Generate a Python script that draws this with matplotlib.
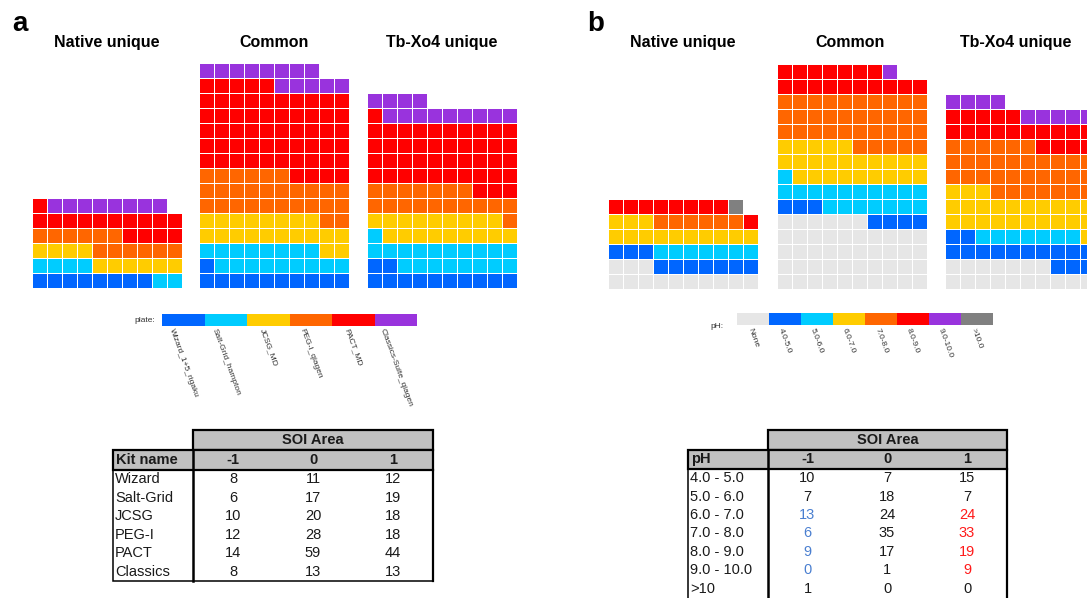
import numpy as np
import matplotlib
matplotlib.use('Agg')
import matplotlib.pyplot as plt
from matplotlib.colors import ListedColormap
from matplotlib.patches import Rectangle

plt.rcParams['font.family'] = ['Liberation Sans', 'DejaVu Sans']

W, H = 1087, 598

# ---------------- data ----------------
plate_labels = ["Wizard_1+5_rigaku", "Salt-Grid_hampton", "JCSG_MD",
                "PEG-I_qiagen", "PACT_MD", "Classics-Suite_qiagen"]
plate_colors = ["#0066ff", "#00ccff", "#ffcc00", "#ff6600", "#ff0000", "#9933dd"]
plate_native = [8, 6, 10, 12, 15, 8]
plate_common = [11, 17, 20, 28, 59, 13]
plate_tb = [12, 19, 18, 18, 44, 13]

ph_labels = ["None", "4.0-5.0", "5.0-6.0", "6.0-7.0", "7.0-8.0",
             "8.0-9.0", "9.0-10.0", ">10.0"]
ph_colors = ["#e6e6e6", "#0066ff", "#00ccff", "#ffcc00", "#ff6600",
             "#ff0000", "#9933dd", "#808080"]
ph_native = [13, 10, 7, 13, 6, 9, 0, 1]
ph_common = [46, 7, 18, 24, 35, 17, 1, 0]
ph_tb = [17, 15, 7, 24, 33, 19, 9, 0]

panel_titles = ["Native unique", "Common", "Tb-Xo4 unique"]

kit_names = ["Wizard", "Salt-Grid", "JCSG", "PEG-I", "PACT", "Classics"]
kit_m1 = [8, 6, 10, 12, 14, 8]
kit_0 = [11, 17, 20, 28, 59, 13]
kit_1 = [12, 19, 18, 18, 44, 13]

ph_rows = ["4.0 - 5.0", "5.0 - 6.0", "6.0 - 7.0", "7.0 - 8.0",
           "8.0 - 9.0", "9.0 - 10.0", ">10"]
ph_m1 = [10, 7, 13, 6, 9, 0, 1]
ph_0 = [7, 18, 24, 35, 17, 1, 0]
ph_1 = [15, 7, 24, 33, 19, 9, 0]
ph_m1_col = ["k", "k", "b", "b", "b", "b", "k"]
ph_1_col = ["k", "k", "r", "r", "r", "r", "k"]
soi_levels = ["-1", "0", "1"]

TXT = "#1a1a1a"
CMAP_TXT = {"k": TXT, "b": "#4a7fd0", "r": "#ff1a1a"}

fig = plt.figure(figsize=(W / 100, H / 100), dpi=100)


def waffle(left, bottom, counts, colors, ncols=10, cw=15.0, ch=15.0):
    total = int(sum(counts))
    nrows = int(np.ceil(total / ncols))
    grid = np.full(nrows * ncols, np.nan)
    grid[:total] = np.repeat(np.arange(len(counts)), counts)
    grid = np.ma.masked_invalid(grid.reshape(nrows, ncols))
    ax = fig.add_axes([left / W, (H - bottom) / H, ncols * cw / W, nrows * ch / H])
    cmap = ListedColormap(colors)
    cmap.set_bad((1, 1, 1, 0))
    ax.pcolormesh(grid, cmap=cmap, vmin=-0.5, vmax=len(colors) - 0.5,
                  edgecolors="white", linewidth=0.45)
    ax.set_xlim(0, ncols)
    ax.set_ylim(0, nrows)
    ax.axis("off")
    return ax


def strip(left, top, width, height, colors, labels):
    ax = fig.add_axes([left / W, (H - top - height) / H, width / W, height / H])
    n = len(colors)
    ax.pcolormesh(np.arange(n)[None, :], cmap=ListedColormap(colors),
                  vmin=-0.5, vmax=n - 0.5)
    ax.set_xlim(0, n)
    ax.set_ylim(0, 1)
    ax.set_xticks(np.arange(n) + 0.5)
    ax.set_xticklabels(labels, rotation=-70, fontsize=6, color="#333333")
    ax.tick_params(length=0, pad=1.5)
    ax.set_yticks([])
    for s in ax.spines.values():
        s.set_visible(False)
    return ax


# waffles panel a
for left, cnt in zip([32, 199, 367], [plate_native, plate_common, plate_tb]):
    waffle(left, 288, cnt, plate_colors)
# waffles panel b
for left, cnt in zip([608, 777, 945], [ph_native, ph_common, ph_tb]):
    waffle(left, 289, cnt, ph_colors)

strip(162, 314, 255, 12, plate_colors, plate_labels)
strip(737, 313, 256, 12, ph_colors, ph_labels)

# overlay axes in pixel coordinates
ov = fig.add_axes([0, 0, 1, 1])
ov.set_xlim(0, W)
ov.set_ylim(H, 0)
ov.axis("off")
ov.patch.set_alpha(0)

ov.text(12, 31, "a", fontsize=20, fontweight="bold", va="baseline", ha="left")
ov.text(587, 31, "b", fontsize=20, fontweight="bold", va="baseline", ha="left")

for cx, t in zip([107, 274, 442, 683, 850, 1016], panel_titles * 2):
    ov.text(cx, 47, t, fontsize=11.5, fontweight="bold", ha="center", va="baseline")

ov.text(155, 320.5, "plate:", fontsize=6, ha="right", va="center", color="#333333")
ov.text(724, 326, "pH:", fontsize=6, ha="right", va="center", color="#333333")


def table(xe, top, hdr_h, row_h, head, labels, cols, colcols, close_bottom=True):
    x0, x1, x2, x3, x4 = xe
    grey = "#c0c0c0"
    ov.add_patch(Rectangle((x1, top), x4 - x1, hdr_h, fc=grey, ec="black", lw=1.6, zorder=2))
    ov.text((x1 + x4) / 2, top + hdr_h / 2, "SOI Area", fontsize=10.5,
            fontweight="bold", ha="center", va="center", color=TXT, zorder=5)
    y2 = top + hdr_h
    ov.add_patch(Rectangle((x0, y2), x4 - x0, hdr_h, fc=grey, ec="black", lw=1.6, zorder=2))
    ov.text(x0 + 3, y2 + hdr_h / 2, head, fontsize=10.5, fontweight="bold",
            ha="left", va="center", color=TXT, zorder=5)
    centers = [(x1 + x2) / 2, (x2 + x3) / 2, (x3 + x4) / 2]
    for cx, lv in zip(centers, soi_levels):
        ov.text(cx, y2 + hdr_h / 2, lv, fontsize=10.5, fontweight="bold",
                ha="center", va="center", color=TXT, zorder=5)
    y3 = y2 + hdr_h
    n = len(labels)
    bottom = y3 + n * row_h
    ext = 0 if close_bottom else 10
    ov.add_patch(Rectangle((x0, y3), x4 - x0, n * row_h + ext,
                           fill=False, ec="black", lw=1.1, zorder=3))
    ov.plot([x1, x1], [y2, bottom + ext], color="black", lw=1.8, zorder=4)
    ov.plot([x4, x4], [y3, bottom + ext], color="black", lw=1.6, zorder=4)
    for i, lab in enumerate(labels):
        yc = y3 + (i + 0.5) * row_h
        ov.text(x0 + 2, yc, lab, fontsize=10.5, ha="left", va="center", color=TXT, zorder=5)
        for j, (cx, vals) in enumerate(zip(centers, cols)):
            c = CMAP_TXT[colcols[j][i]]
            ov.text(cx, yc, str(vals[i]), fontsize=10.5, ha="center", va="center",
                    color=c, zorder=5)


table([113, 193, 273, 353, 433], 430, 20, 18.5, "Kit name", kit_names,
      [kit_m1, kit_0, kit_1], [["k"] * 6, ["k"] * 6, ["k"] * 6])
table([688, 768, 847, 927, 1007], 430, 19.5, 18.4, "pH", ph_rows,
      [ph_m1, ph_0, ph_1], [ph_m1_col, ["k"] * 7, ph_1_col], close_bottom=False)

fig.savefig("out.png", dpi=100)
